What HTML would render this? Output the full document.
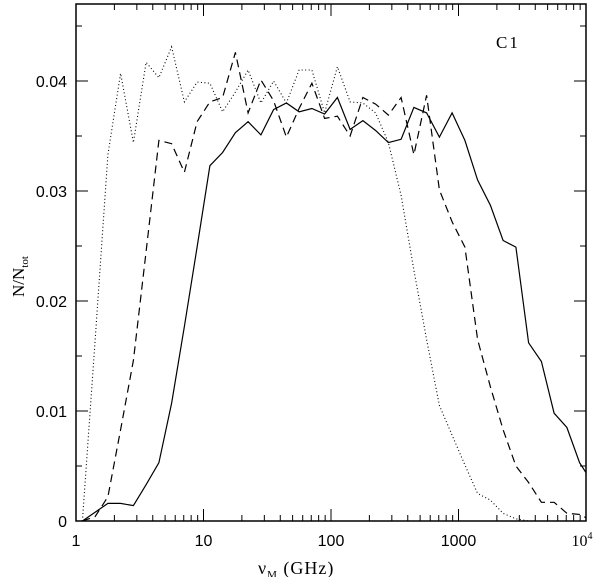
<!DOCTYPE html>
<html><head><meta charset="utf-8"><style>
body{margin:0;background:#fff;}
svg text{font-family:"Liberation Sans",sans-serif;}
.serif{font-family:"Liberation Serif",serif;}
</style></head><body>
<svg id="chart" width="600" height="577" viewBox="0 0 600 577" xmlns="http://www.w3.org/2000/svg">
<defs><clipPath id="clip"><rect x="76" y="4" width="510" height="517"/></clipPath></defs>
<g id="axes"></g>
<g id="series" clip-path="url(#clip)"></g>
<text x="496" y="48" class="serif" font-size="17" letter-spacing="2">C1</text>
<text x="258" y="574" class="serif" font-size="18" letter-spacing="1">ν<tspan font-size="11" dy="4">M</tspan><tspan dy="-4"> (GHz)</tspan></text>
<text transform="translate(24,297) rotate(-90)" class="serif" font-size="17">N/N<tspan font-size="11" dy="4">tot</tspan></text>
</svg>
<script>
const binLog = [0.05,0.15,0.25,0.35,0.45,0.55,0.65,0.75,0.85,0.95,1.05,1.15,1.25,1.35,1.45,1.55,1.65,1.75,1.85,1.95,2.05,2.15,2.25,2.35,2.45,2.55,2.65,2.75,2.85,2.95,3.05,3.15,3.25,3.35,3.45,3.55,3.65,3.75,3.85,3.95,4.05];
const solidVals = [0,0.0008,0.0016,0.0016,0.0014,0.0033,0.0053,0.0107,0.0177,0.0249,0.0323,0.0335,0.0353,0.0363,0.0351,0.0374,0.0380,0.0372,0.0375,0.0370,0.0385,0.0356,0.0364,0.0355,0.0344,0.0347,0.0376,0.0371,0.0349,0.0371,0.0346,0.0310,0.0287,0.0255,0.0249,0.0162,0.0145,0.0098,0.0085,0.0053,0.0035];
const dashedVals = [0,0.0004,0.0022,0.0083,0.0146,0.0245,0.0346,0.0343,0.0317,0.0363,0.0381,0.0385,0.0426,0.0371,0.0401,0.0382,0.0349,0.0375,0.0398,0.0366,0.0368,0.0350,0.0385,0.0379,0.0369,0.0385,0.0333,0.0387,0.0301,0.0272,0.0249,0.0165,0.0122,0.0083,0.0050,0.0035,0.0017,0.0017,0.0007,0.0006,0.0];
const dottedVals = [0,0.0164,0.0333,0.0407,0.0344,0.0417,0.0403,0.0431,0.0381,0.0399,0.0398,0.0372,0.0390,0.0410,0.0380,0.0400,0.0380,0.0410,0.0410,0.0371,0.0413,0.0381,0.0380,0.0371,0.0344,0.0296,0.0228,0.0165,0.0105,0.0078,0.0051,0.0025,0.0019,0.0007,0.0002,0,0,0,0,0,0];
const xTickLabels = ["1","10","100","1000"];
const yTickVals = [0,0.01,0.02,0.03,0.04];
const yTickLabels = ["0","0.01","0.02","0.03","0.04"];

const X0=76,X1=586,Y0=521,YT=4;
const xs = l => X0 + (X1-X0)*l/4;
const ys = v => Y0 - v*11000;
const NS="http://www.w3.org/2000/svg";
const axes=document.getElementById('axes'), series=document.getElementById('series');
function mk(tag,attrs,parent){const e=document.createElementNS(NS,tag);for(const k in attrs)e.setAttribute(k,attrs[k]);parent.appendChild(e);return e;}

const frame=mk('rect',{x:X0,y:YT,width:X1-X0,height:Y0-YT,fill:'none',stroke:'#000','stroke-width':1.5},axes);



for(let d=0;d<4;d++){for(let m=1;m<=9;m++){
  const l=d+Math.log10(m), x=xs(l), len=(m===1)?12:6;
  const t1=mk('line',{x1:x,x2:x,y1:Y0,y2:Y0-len,stroke:'#000','stroke-width':1},axes);
  
  
  const t2=mk('line',{x1:x,x2:x,y1:YT,y2:YT+len,stroke:'#000','stroke-width':1},axes);
  
  
}}
xTickLabels.forEach((s,i)=>{
  const t=mk('text',{x:xs(i),y:546,'font-size':16,'text-anchor':'middle'},axes);
  t.textContent=s;
  
  
});
const t4=mk('text',{x:xs(4)-4,y:546,'font-size':16,'text-anchor':'middle',class:'serif'},axes);
t4.innerHTML='10<tspan font-size="10" dy="-7">4</tspan>';



for(let v=0;v<=0.0451;v+=0.005){
  const y=ys(v), major=Math.round(v*1000)%10===0, len=major?12:6;
  const a=mk('line',{x1:X0,x2:X0+len,y1:y,y2:y,stroke:'#000','stroke-width':1},axes);
  
  
  const b=mk('line',{x1:X1,x2:X1-len,y1:y,y2:y,stroke:'#000','stroke-width':1},axes);
  
  
}
yTickVals.forEach((v,i)=>{
  const t=mk('text',{x:67,y:ys(v)+6,'font-size':16,'text-anchor':'end'},axes);
  t.textContent=yTickLabels[i];
  
  
});

function line(vals,dash,name){
  const d=vals.map((v,i)=>(i?'L':'M')+xs(binLog[i]).toFixed(1)+','+ys(v).toFixed(1)).join(' ');
  const p=mk('path',{d:d,fill:'none',stroke:'#000','stroke-width':dash==='1 2.5'?1.1:1.2,'stroke-dasharray':dash},series);
  
  
}
line(solidVals,'none','series-solid');
line(dashedVals,'8 5','series-dashed');
line(dottedVals,'1 2.5','series-dotted');
</script>
</body></html>
